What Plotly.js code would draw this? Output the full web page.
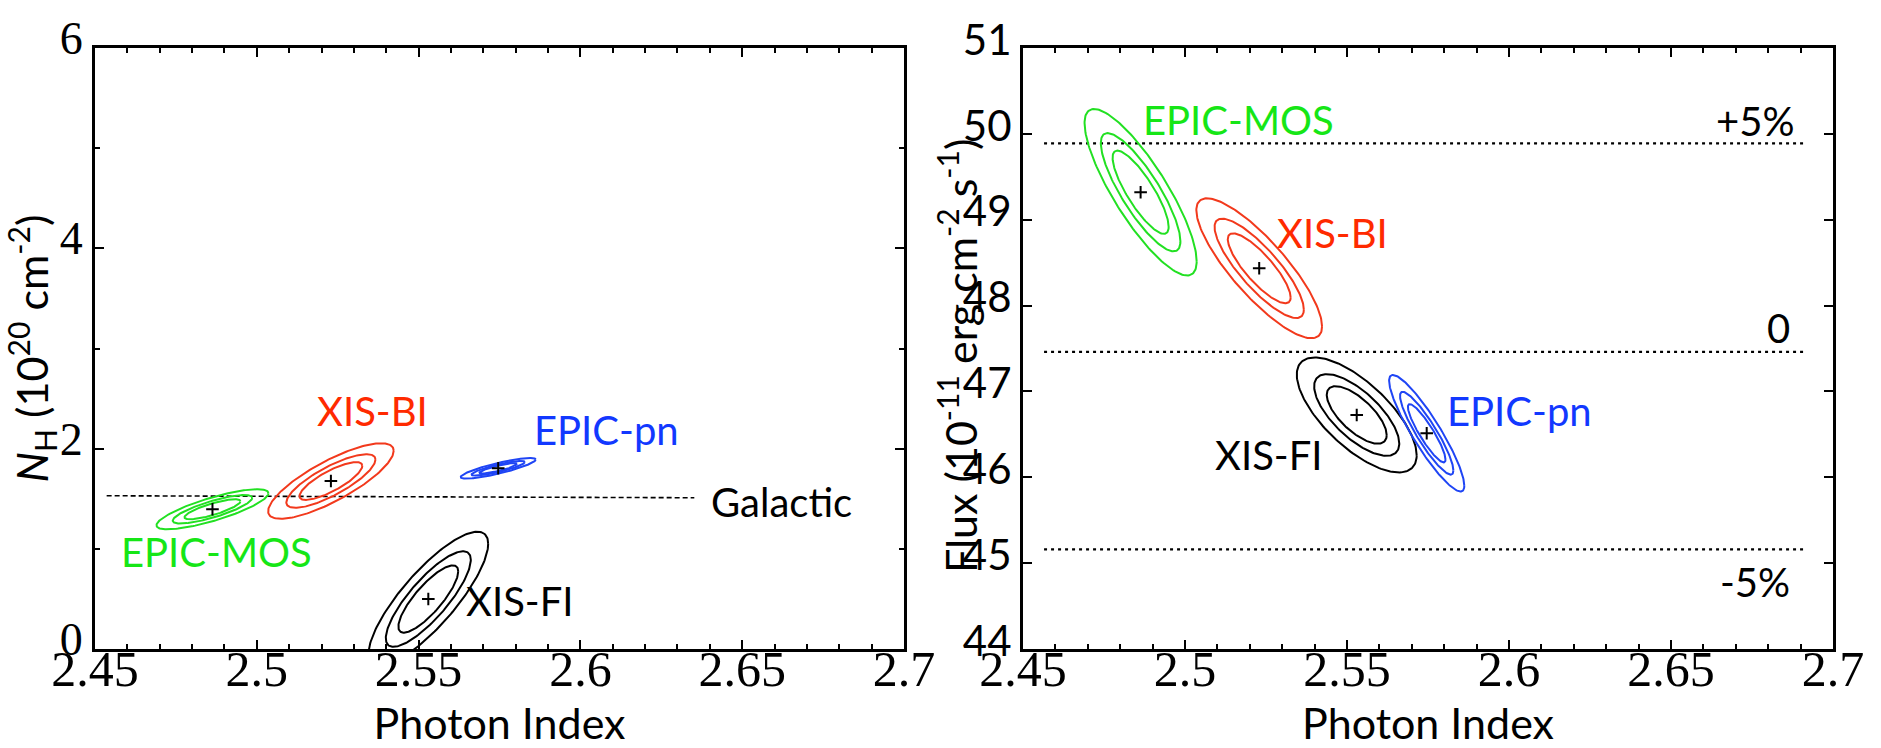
<!DOCTYPE html>
<html>
<head>
<meta charset="utf-8">
<script src="https://cdn.plot.ly/plotly-3.0.1.min.js"></script>
<style>
html,body{margin:0;padding:0;background:#fff;}
#chart{width:1881px;height:748px;}
</style>
</head>
<body>
<div id="chart"></div>
<script>
// ---- data ----
const detectors   = ['EPIC-MOS', 'XIS-BI', 'XIS-FI', 'EPIC-pn'];
const gammaBest   = [2.4863, 2.5229, 2.5530, 2.5746];   // photon index best fit
const nhBest      = [1.395, 1.677, 0.499, 1.804];        // N_H (1e20 cm^-2)
const fluxBest    = [49.32, 48.434, 46.726, 46.513];     // flux (1e-11 erg cm^-2 s^-1)
// outermost contour half extents and correlation (tilt)
const gammaHalf   = [0.0173, 0.0194, 0.0185, 0.0116];
const nhHalf      = [0.200, 0.377, 0.672, 0.103];
const nhCorr      = [0.80, 0.80, 0.82, 0.85];
const fluxHalf    = [0.97, 0.815, 0.67, 0.679];
const fluxCorr    = [-0.83, -0.83, -0.70, -0.90];
const contourLevels = [0.50, 0.71, 1.00];                 // relative contour sizes (68/90/99%)
// reference lines
const galacticX   = [2.4536, 2.6352];
const galacticNH  = [1.530, 1.510];
const fluxRefX    = [2.4565, 2.6913];
const fluxRefLevels = [49.89, 47.46, 45.16];
const fluxRefLabels = ['+5%', '0', '-5%'];
// label positions (data coords)
const nhLabelX    = [2.4874, 2.5356, 2.5813, 2.6082];
const nhLabelY    = [0.968, 2.376, 0.479, 2.186];
const fluxLabelX  = [2.5164, 2.5454, 2.5259, 2.6031];
const fluxLabelY  = [50.161, 48.845, 46.26, 46.772];
const fluxRefLabelX = [2.6759, 2.6833, 2.6759];
const fluxRefLabelY = [50.15, 47.739, 44.78];
const galacticLabel = {text: 'Galactic', x: 2.662, y: 1.468};
const xTickVals = [2.45, 2.5, 2.55, 2.6, 2.65, 2.7];
const xTickText = ['2.45', '2.5', '2.55', '2.6', '2.65', '2.7'];
const xTitle = 'Photon Index';
const nhTitle = '<i>N</i><sub>H</sub> (10<sup>20</sup> cm<sup>-2</sup>)';
const fluxTitle = 'Flux (10<sup>-11</sup> erg cm<sup>-2</sup> s<sup>-1</sup>)';

// ---- styles ----
const lineColors = ['#22e022', '#f2391c', '#000000', '#1f45f5'];
const textColors = ['#16e616', '#ff2a00', '#000000', '#1238ff'];
const SERIF = 'Liberation Serif';
const SANS = 'Lato';

function ellipse(cx, cy, a, b, rho, scale) {
  const xs = [], ys = [];
  const s = Math.sqrt(1 - rho * rho);
  for (let i = 0; i <= 180; i++) {
    const t = 2 * Math.PI * i / 180;
    xs.push(cx + scale * a * Math.cos(t));
    ys.push(cy + scale * b * (rho * Math.cos(t) + s * Math.sin(t)));
  }
  return {xs, ys};
}

const traces = [];
// galactic line
traces.push({x: galacticX, y: galacticNH, xaxis: 'x', yaxis: 'y', mode: 'lines',
  line: {color: '#000', width: 1.6, dash: '5px,3px'}, hoverinfo: 'skip', showlegend: false});
// flux reference lines
fluxRefLevels.forEach(v => traces.push({x: fluxRefX, y: [v, v], xaxis: 'x2', yaxis: 'y2', mode: 'lines',
  line: {color: '#000', width: 2.2, dash: '3px,4px'}, hoverinfo: 'skip', showlegend: false}));

detectors.forEach((d, i) => {
  contourLevels.forEach(lv => {
    const e1 = ellipse(gammaBest[i], nhBest[i], gammaHalf[i], nhHalf[i], nhCorr[i], lv);
    traces.push({x: e1.xs, y: e1.ys, xaxis: 'x', yaxis: 'y', mode: 'lines', name: d,
      line: {color: lineColors[i], width: 2}, showlegend: false});
    const e2 = ellipse(gammaBest[i], fluxBest[i], gammaHalf[i], fluxHalf[i], fluxCorr[i], lv);
    traces.push({x: e2.xs, y: e2.ys, xaxis: 'x2', yaxis: 'y2', mode: 'lines', name: d,
      line: {color: lineColors[i], width: 2}, showlegend: false});
  });
});
// best-fit crosses
const crossMarker = {symbol: 'cross-thin-open', size: 9, color: '#000', line: {color: '#000', width: 2}};
traces.push({x: gammaBest, y: nhBest, xaxis: 'x', yaxis: 'y', mode: 'markers', text: detectors,
  marker: crossMarker, showlegend: false});
traces.push({x: gammaBest, y: fluxBest, xaxis: 'x2', yaxis: 'y2', mode: 'markers', text: detectors,
  marker: crossMarker, showlegend: false});

const annotations = [];
detectors.forEach((d, i) => {
  annotations.push({xref: 'x', yref: 'y', x: nhLabelX[i], y: nhLabelY[i], text: d, showarrow: false,
    font: {family: SANS, size: 40, color: textColors[i]}});
  annotations.push({xref: 'x2', yref: 'y2', x: fluxLabelX[i], y: fluxLabelY[i], text: d, showarrow: false,
    font: {family: SANS, size: 40, color: textColors[i]}});
});
annotations.push({xref: 'x', yref: 'y', x: galacticLabel.x, y: galacticLabel.y, text: galacticLabel.text,
  showarrow: false, font: {family: SANS, size: 40, color: '#000'}});
fluxRefLabels.forEach((t, i) => annotations.push({xref: 'x2', yref: 'y2', x: fluxRefLabelX[i], y: fluxRefLabelY[i],
  text: t, showarrow: false, font: {family: SANS, size: 40, color: '#000'}}));

const W = 1881, H = 748;
// flux axis title (placed over the tick-label column, as in the reference)
annotations.push({xref: 'paper', yref: 'paper', x: 957 / W, y: (H - 356) / H, xanchor: 'center', yanchor: 'middle',
  text: fluxTitle, textangle: -90, showarrow: false, font: {family: SANS, size: 43, color: '#000'}});

const xCommon = {
  range: [2.45, 2.7], tickmode: 'array', tickvals: xTickVals, ticktext: xTickText,
  ticks: 'inside', ticklen: 9, tickwidth: 2, tickcolor: '#000',
  minor: {dtick: 0.01, tick0: 2.45, ticks: 'inside', ticklen: 5, tickwidth: 2, tickcolor: '#000'},
  showline: true, linewidth: 3, linecolor: '#000', mirror: 'ticks',
  showgrid: false, zeroline: false, tickfont: {family: SERIF, size: 50, color: '#000'},
  ticklabelstandoff: -26,
  title: {text: xTitle, font: {family: SANS, size: 43, color: '#000'}, standoff: 42}
};
const layout = {
  width: W, height: H, margin: {l: 0, r: 0, t: 0, b: 0}, paper_bgcolor: '#fff', plot_bgcolor: '#fff',
  showlegend: false,
  xaxis: Object.assign({}, xCommon, {domain: [95 / W, 904 / W], anchor: 'y'}),
  xaxis2: Object.assign({}, xCommon, {domain: [1023 / W, 1833 / W], anchor: 'y2'}),
  yaxis: {
    domain: [99 / H, 700 / H], anchor: 'x', range: [0, 6], tickmode: 'linear', tick0: 0, dtick: 2,
    ticks: 'inside', ticklen: 9, tickwidth: 2, tickcolor: '#000',
    minor: {dtick: 1, ticks: 'inside', ticklen: 5, tickwidth: 2, tickcolor: '#000'},
    showline: true, linewidth: 3, linecolor: '#000', mirror: 'ticks', showgrid: false, zeroline: false,
    tickfont: {family: SERIF, size: 46, color: '#000'}, ticklabelshift: -10,
    title: {text: nhTitle, font: {family: SANS, size: 43, color: '#000'}, standoff: 0}
  },
  yaxis2: {
    domain: [99 / H, 700 / H], anchor: 'x2', range: [44, 51], tickmode: 'linear', tick0: 44, dtick: 1,
    ticks: 'inside', ticklen: 9, tickwidth: 2, tickcolor: '#000',
    showline: true, linewidth: 3, linecolor: '#000', mirror: 'ticks', showgrid: false, zeroline: false,
    tickfont: {family: SANS, size: 42, color: '#000'}, ticklabelshift: -8
  },
  annotations: annotations
};
Plotly.newPlot('chart', traces, layout, {displayModeBar: false, staticPlot: true});
</script>
</body>
</html>
